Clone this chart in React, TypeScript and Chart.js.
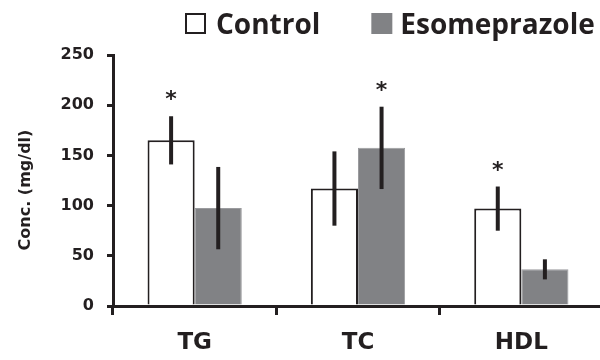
import React, { useEffect, useRef } from "react";
import { Chart, registerables } from "chart.js";

Chart.register(...registerables);

const categories = ["TG", "TC", "HDL"];
const seriesNames = ["Control", "Esomeprazole"];
const controlValues = [165, 117, 97];
const controlErrors = [24, 37, 22];
const esoValues = [97.5, 157.5, 36.5];
const esoErrors = [41, 41, 10];
const controlSignificant = [true, false, true];
const esoSignificant = [false, true, false];
const yTicks = [0, 50, 100, 150, 200, 250];
const yTitle = "Conc. (mg/dl)";

const INK = "#231f20";
const GRAY = "#818285";

const errors = [controlErrors, esoErrors];
const significance = [controlSignificant, esoSignificant];

const errorBarPlugin = {
  id: "errorBars",
  afterDatasetsDraw(chart: any) {
    const ctx = chart.ctx;
    const yScale = chart.scales.y;
    chart.data.datasets.forEach((ds: any, i: number) => {
      const meta = chart.getDatasetMeta(i);
      meta.data.forEach((bar: any, j: number) => {
        const v = ds.data[j];
        const e = errors[i][j];
        const top = yScale.getPixelForValue(v + e);
        const bot = yScale.getPixelForValue(v - e);
        ctx.save();
        ctx.strokeStyle = INK;
        ctx.lineWidth = 4;
        ctx.beginPath();
        ctx.moveTo(bar.x, top);
        ctx.lineTo(bar.x, bot);
        ctx.stroke();
        if (significance[i][j]) {
          ctx.fillStyle = INK;
          ctx.font = "bold 22px 'DejaVu Sans'";
          ctx.textAlign = "center";
          ctx.textBaseline = "alphabetic";
          ctx.fillText("*", bar.x, top - 22 + 12);
        }
        ctx.restore();
      });
    });
  },
};

const decorPlugin = {
  id: "decor",
  afterDraw(chart: any) {
    const ctx = chart.ctx;
    ctx.save();
    // y-axis title
    ctx.fillStyle = INK;
    ctx.font = "bold 16px 'DejaVu Sans'";
    ctx.textAlign = "center";
    ctx.textBaseline = "alphabetic";
    ctx.translate(30, 190);
    ctx.rotate(-Math.PI / 2);
    ctx.fillText(yTitle, 0, 0);
    ctx.restore();

    // legend
    ctx.save();
    ctx.font = "bold 28px 'Open Sans'";
    ctx.textBaseline = "alphabetic";
    ctx.textAlign = "left";
    let x = 185;
    const boxTop = 13;
    const box = 21;
    const baseline = 34;
    chart.data.datasets.forEach((ds: any, i: number) => {
      if (i === 0) {
        ctx.fillStyle = "#ffffff";
        ctx.fillRect(x, boxTop, box, box);
        ctx.strokeStyle = INK;
        ctx.lineWidth = 2;
        ctx.strokeRect(x + 1, boxTop + 1, box - 2, box - 2);
      } else {
        ctx.fillStyle = GRAY;
        ctx.fillRect(x, boxTop, box, box);
      }
      x += box + (i === 0 ? 10 : 8);
      ctx.fillStyle = INK;
      ctx.fillText(ds.label, x, baseline);
      x += ctx.measureText(ds.label).width + 51;
    });
    ctx.restore();
  },
};

export default function App() {
  const ref = useRef<HTMLCanvasElement>(null);
  useEffect(() => {
    if (!ref.current) return;
    const chart = new Chart(ref.current, {
      type: "bar",
      data: {
        labels: categories,
        datasets: [
          {
            label: seriesNames[0],
            data: controlValues,
            backgroundColor: "#ffffff",
            borderColor: INK,
            borderWidth: 2,
            categoryPercentage: 0.577,
            barPercentage: 1,
          },
          {
            label: seriesNames[1],
            data: esoValues,
            backgroundColor: GRAY,
            borderColor: "#9a9b9e",
            borderWidth: 1,
            categoryPercentage: 0.577,
            barPercentage: 1,
          },
        ],
      },
      options: {
        animation: false,
        responsive: false,
        devicePixelRatio: 1,
        layout: { padding: { top: 55, left: 0, right: 0, bottom: 0 } },
        plugins: {
          legend: { display: false },
          tooltip: { enabled: false },
          title: { display: false },
        },
        scales: {
          x: {
            offset: true,
            grid: {
              offset: true,
              drawOnChartArea: false,
              drawTicks: true,
              tickLength: 9,
              color: INK,
              lineWidth: 3,
            },
            border: { display: true, color: INK, width: 3 },
            ticks: {
              color: INK,
              font: { family: "'DejaVu Sans'", size: 23, weight: "bold" },
              padding: 14,
            },
            afterFit(scale: any) {
              scale.height = 54;
            },
          },
          y: {
            min: 0,
            max: 250,
            afterBuildTicks(scale: any) {
              scale.ticks = yTicks.map((v) => ({ value: v }));
            },
            grid: {
              drawOnChartArea: false,
              drawTicks: true,
              tickLength: 6,
              color: INK,
              lineWidth: 3,
            },
            border: { display: true, color: INK, width: 3 },
            ticks: {
              color: INK,
              font: { family: "'DejaVu Sans'", size: 16, weight: "bold" },
              padding: 13,
            },
            afterFit(scale: any) {
              scale.width = 113;
            },
          },
        },
      },
      plugins: [errorBarPlugin, decorPlugin],
    });
    return () => chart.destroy();
  }, []);
  return (
    <div
      style={{
        position: "fixed",
        left: 0,
        top: 0,
        width: 600,
        height: 360,
        overflow: "hidden",
        background: "#ffffff",
      }}
    >
      <canvas ref={ref} width={603} height={360} style={{ display: "block" }} />
    </div>
  );
}
